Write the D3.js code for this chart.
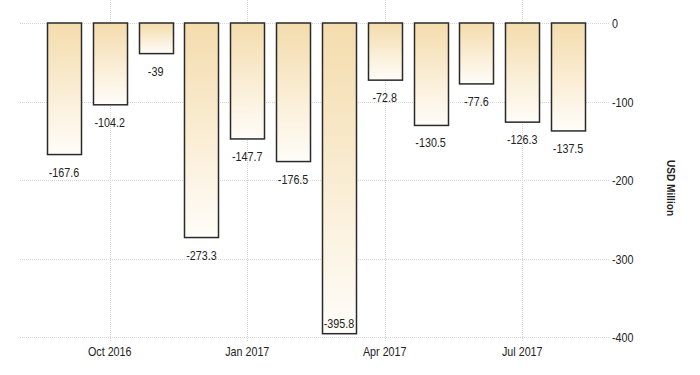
<!DOCTYPE html>
<html>
<head>
<meta charset="utf-8">
<script src="https://cdn.jsdelivr.net/npm/d3@7"></script>
<style>
  body { margin: 0; background: #fff; }
  svg { display: block; }
</style>
</head>
<body>
<div id="chart"></div>
<script>
// monthly values, USD million
var months = ["2016-09", "2016-10", "2016-11", "2016-12", "2017-01", "2017-02",
              "2017-03", "2017-04", "2017-05", "2017-06", "2017-07", "2017-08"];
var values = [-167.6, -104.2, -39, -273.3, -147.7, -176.5,
              -395.8, -72.8, -130.5, -77.6, -126.3, -137.5];
var yTicks = [0, -100, -200, -300, -400];
var xTickMonths = ["2016-10", "2017-01", "2017-04", "2017-07"];
var xTickLabels = ["Oct 2016", "Jan 2017", "Apr 2017", "Jul 2017"];

var w = 700, h = 375;
var font = "'Liberation Sans', Arial, sans-serif";
var squeeze = 0.86; // the original uses a narrow face

var svg = d3.select("#chart").append("svg").attr("width", w).attr("height", h);

var x = d3.scaleBand().domain(months).range([24, 608]).paddingInner(0.258).paddingOuter(0.5);
var y = d3.scaleLinear().domain([0, -400]).range([23, 337]);
var cx = function(m) { return x(m) + x.bandwidth() / 2; };

var grad = svg.append("defs").append("linearGradient")
  .attr("id", "barfill").attr("x1", 0).attr("y1", 0).attr("x2", 0).attr("y2", 1);
grad.append("stop").attr("offset", "0%").attr("stop-color", "#f4dcac");
grad.append("stop").attr("offset", "100%").attr("stop-color", "#fffdf9");

// horizontal grid
svg.append("g").selectAll("line")
  .data(yTicks).enter().append("line")
  .attr("x1", 20).attr("x2", 609)
  .attr("y1", function(d) { return Math.round(y(d)) + 0.5; })
  .attr("y2", function(d) { return Math.round(y(d)) + 0.5; })
  .attr("stroke", "#d4d4d4").attr("stroke-dasharray", "1,1");

// vertical grid
svg.append("g").selectAll("line")
  .data(xTickMonths).enter().append("line")
  .attr("x1", function(d) { return Math.round(cx(d)) + 0.5; })
  .attr("x2", function(d) { return Math.round(cx(d)) + 0.5; })
  .attr("y1", 0).attr("y2", 342)
  .attr("stroke", "#d4d4d4").attr("stroke-dasharray", "1,1");

// bars
svg.append("g").selectAll("rect")
  .data(values).enter().append("rect")
  .attr("x", function(d, i) { return Math.round(x(months[i])) + 0.5; })
  .attr("y", y(0))
  .attr("width", Math.round(x.bandwidth()))
  .attr("height", function(d) { return y(d) - y(0); })
  .attr("fill", "url(#barfill)")
  .attr("stroke", "#2a2a2a").attr("stroke-width", 1.5);

function narrowText(sel, fx, fy) {
  sel.attr("transform", function(d, i) {
      return "translate(" + fx(d, i) + "," + fy(d, i) + ") scale(" + squeeze + ",1)";
    })
    .attr("font-family", font)
    .attr("font-size", "12.5px")
    .attr("fill", "#222");
}

// value labels
svg.append("g").selectAll("text")
  .data(values).enter().append("text")
  .text(function(d) { return d; })
  .attr("text-anchor", "middle")
  .call(narrowText,
    function(d, i) { return cx(months[i]); },
    function(d) { return d < -350 ? y(d) - 6 : y(d) + 22; });

// right axis labels
svg.append("g").selectAll("text")
  .data(yTicks).enter().append("text")
  .text(function(d) { return d; })
  .call(narrowText,
    function() { return 612; },
    function(d) { return y(d) + 5; });

// bottom axis labels
svg.append("g").selectAll("text")
  .data(xTickMonths).enter().append("text")
  .text(function(d, i) { return xTickLabels[i]; })
  .attr("text-anchor", "middle")
  .call(narrowText,
    function(d) { return cx(d); },
    function() { return 356; });

// axis title
svg.append("text")
  .text("USD Million")
  .attr("transform", "translate(667,188) rotate(90) scale(0.92,1)")
  .attr("text-anchor", "middle")
  .attr("font-family", font)
  .attr("font-size", "11px")
  .attr("font-weight", "bold")
  .attr("fill", "#222");
</script>
</body>
</html>
